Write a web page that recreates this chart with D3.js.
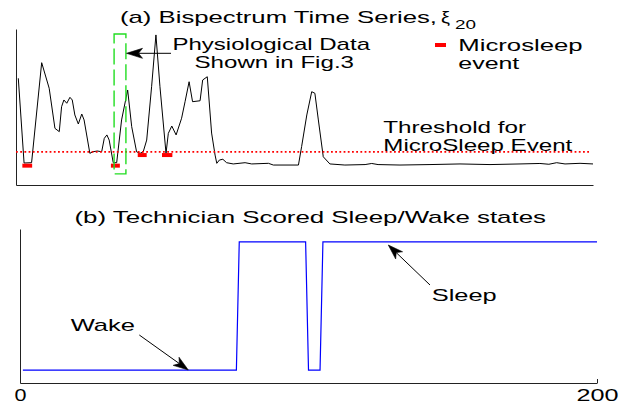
<!DOCTYPE html>
<html><head><meta charset="utf-8">
<script src="https://cdn.jsdelivr.net/npm/d3@7"></script>
<style>
html,body{margin:0;padding:0;background:#fff;}
text{font-family:"Liberation Sans",Arial,Helvetica,sans-serif;fill:#000;}
</style></head>
<body><svg id="c" width="621" height="409"></svg>
<script>
// ---- Panel (a): bispectrum time series (time, value) vertices ----
const bisTime = [0.8,2.8,5.4,8.9,11.5,13.5,15.0,15.8,16.6,17.6,18.7,19.5,20.4,21.6,22.8,23.6,25.6,26.6,28.2,29.7,
  30.6,31.5,32.3,33.7,34.9,36.6,38.7,40.1,41.8,43.0,44.1,45.3,47.0,48.5,49.9,52.0,52.8,54.0,55.5,57.4,
  58.6,60.0,61.2,63.8,64.7,66.3,67.8,69.0,69.6,70.5,71.7,73.0,75.3,79.4,81.7,87.5,89.2,97.9,99.0,100.8,
  102.5,103.6,104.8,106.5,108.8,114.0,121.0,123.3,125.5,133.1,143.5,153.9,164.3,174.7,181.6,184.7,187.4,190.3,195.5,200.0];
const bisValue = [68.4,14.1,14.3,78.4,62.0,36.3,34.2,50.2,54.5,52.4,56.2,54.5,44.9,39.1,45.5,41.7,20.3,21.3,21.8,21.3,
  29.9,32.1,28.8,14.3,14.3,41.7,60.9,37.4,21.3,20.3,21.3,28.8,63.0,96.2,63.0,20.3,33.1,37.8,32.1,42.8,
  53.4,66.2,53.4,54.0,67.3,69.4,33.3,19.2,13.9,16.0,16.5,14.3,13.5,14.3,13.5,13.9,12.8,12.8,24.6,44.9,
  59.8,58.8,41.7,18.1,13.5,12.8,13.1,13.8,13.1,12.8,13.1,13.5,13.1,13.5,13.8,13.3,14.3,13.5,13.9,13.5];
const thresholdValue = 21.2;
const thresholdSpan = [0, 199];
// microsleep events
const eventStart = [2.2, 32.9, 42.2, 50.6];
const eventEnd   = [5.6, 36.0, 45.3, 54.2];
const eventLevel = [12.4, 12.4, 19.2, 19.2];
// highlighted segment (Fig.3 data)
const figBoxTime = [34.0, 38.1];
const figBoxValue = [7.1, 96.8];

// ---- Panel (b): technician scored states (0 = wake, 1 = sleep) ----
const stateTime  = [1, 75, 76, 99, 100, 104, 105, 200];
const stateValue = [0, 0, 1, 1, 0, 0, 1, 1];
const xTickValues = [0, 200];
const xTickLabels = ["0", "200"];

const svg = d3.select("#c");
const FONT = 17;

const xTop = d3.scaleLinear().domain([0,200]).range([16,593]);
const yTop = d3.scaleLinear().domain([0,100]).range([185,29]);
const xBot = d3.scaleLinear().domain([0,200]).range([20,597]);
const yBot = d3.scaleLinear().domain([-0.1,1.1]).range([383,229]);

function txt(str, x, y, len, size) {
  const t = svg.append("text").attr("x", x).attr("y", y)
    .style("font-size", (size||FONT) + "px").text(str);
  if (len) t.attr("textLength", len).attr("lengthAdjust", "spacingAndGlyphs");
  return t;
}
function arrow(x1, y1, x2, y2, L, hw, notch) {
  L = L || 15; hw = hw || 5; notch = notch || 4;
  const dx = x2 - x1, dy = y2 - y1, d = Math.hypot(dx, dy);
  const ux = dx / d, uy = dy / d, px = -uy, py = ux;
  const bx = x2 - ux * L, by = y2 - uy * L;
  const nx = x2 - ux * (L - notch), ny = y2 - uy * (L - notch);
  svg.append("line").attr("x1", x1).attr("y1", y1).attr("x2", nx).attr("y2", ny)
    .attr("stroke", "#000").attr("stroke-width", 1);
  svg.append("path")
    .attr("d", `M${x2},${y2}L${bx + px*hw},${by + py*hw}L${nx},${ny}L${bx - px*hw},${by - py*hw}Z`)
    .attr("fill", "#000").attr("stroke", "#000").attr("stroke-width", 0.6);
}

// ---- Axes panel (a) ----
svg.append("g").attr("transform", "translate(0,185)")
  .call(d3.axisBottom(xTop).tickValues([]).tickSizeOuter(0));
svg.append("g").attr("transform", "translate(16,0)")
  .call(d3.axisLeft(yTop).tickValues([]).tickSizeOuter(0));
// ---- Axes panel (b) ----
const axBotX = svg.append("g").attr("transform", "translate(0,383)")
  .call(d3.axisBottom(xBot).tickValues(xTickValues).tickFormat((d,i)=>xTickLabels[i])
        .tickSizeInner(-4).tickSizeOuter(0).tickPadding(6));
svg.append("g").attr("transform", "translate(20,0)")
  .call(d3.axisLeft(yBot).tickValues([]).tickSizeOuter(0));
svg.selectAll(".domain, .tick line").attr("stroke", "#222");
axBotX.selectAll("text").style("font-size", FONT + "px").attr("fill", "#000")
  .attr("lengthAdjust","spacingAndGlyphs")
  .attr("textLength", d => d === 200 ? 42 : 12);
svg.selectAll("g").attr("font-family", null).attr("font-size", null);

// ---- Panel (a) marks ----
const bisData = bisTime.map((t,i)=>({t, v: bisValue[i]}));
svg.append("path").datum(bisData)
  .attr("d", d3.line().x(d=>xTop(d.t)).y(d=>yTop(d.v)))
  .attr("fill","none").attr("stroke","#000").attr("stroke-width",1);

svg.append("line")
  .attr("x1", xTop(thresholdSpan[0])).attr("x2", xTop(thresholdSpan[1]))
  .attr("y1", yTop(thresholdValue)).attr("y2", yTop(thresholdValue))
  .attr("stroke","#ff0000").attr("stroke-width",1.8).attr("stroke-dasharray","1.8,2.4");

svg.selectAll(".ev").data(eventStart.map((s,i)=>({s, e: eventEnd[i], v: eventLevel[i]})))
  .enter().append("line").attr("class","ev")
  .attr("x1", d=>xTop(d.s)).attr("x2", d=>xTop(d.e))
  .attr("y1", d=>yTop(d.v)).attr("y2", d=>yTop(d.v))
  .attr("stroke","#ff0000").attr("stroke-width",4);

svg.append("path")
  .attr("d", `M${xTop(figBoxTime[0])},${yTop(figBoxValue[1])}H${xTop(figBoxTime[1])}V${yTop(figBoxValue[0])}H${xTop(figBoxTime[0])}Z`)
  .attr("fill","none").attr("stroke","#22dd22").attr("stroke-width",1.4)
  .attr("stroke-dasharray","16,5");

// ---- Panel (b) marks ----
const stData = stateTime.map((t,i)=>({t, v: stateValue[i]}));
svg.append("path").datum(stData)
  .attr("d", d3.line().x(d=>xBot(d.t)).y(d=>yBot(d.v)))
  .attr("fill","none").attr("stroke","#0000ff").attr("stroke-width",1.2);

// ---- Text ----
txt("(a) Bispectrum Time Series,", 120, 22.5, 317);
txt("\u03BE", 441, 22.5, 9);
txt("20", 455, 28.5, 21, 13);
txt("(b) Technician Scored Sleep/Wake states", 74.5, 223, 471.5);
txt("Physiological Data", 172.5, 50, 197.5);
txt("Shown in Fig.3", 194.5, 68, 159.5);
txt("Microsleep", 458.3, 50.5, 124.4);
txt("event", 458.3, 68.5, 61);
txt("Threshold for", 383.3, 133, 142.7);
txt("MicroSleep Event", 383.3, 151, 189);
txt("Wake", 70.7, 330.7, 64.3);
txt("Sleep", 431.7, 301, 65);

svg.append("line").attr("x1",435).attr("x2",446).attr("y1",45).attr("y2",45)
  .attr("stroke","#ff0000").attr("stroke-width",4);

arrow(171, 53.3, 126.5, 53.3, 16, 5, 4);
arrow(139.3, 335, 188.3, 370, 15, 5, 4);
arrow(430, 285, 388.3, 245, 15, 5, 4);
</script></body></html>
